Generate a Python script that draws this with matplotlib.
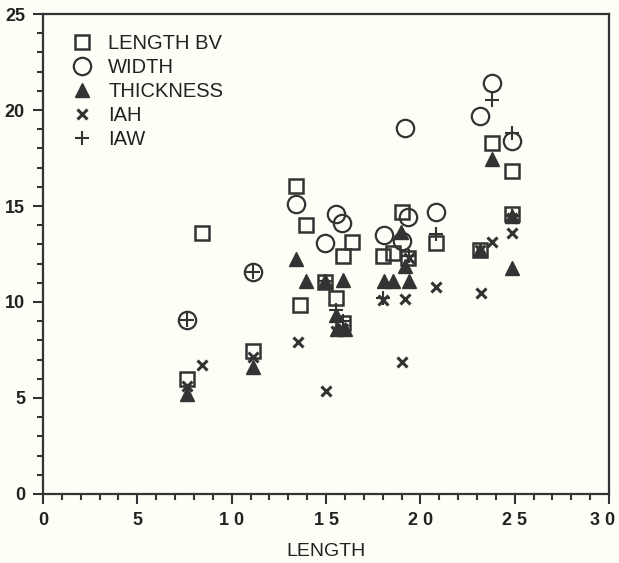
import matplotlib.pyplot as plt
import matplotlib.transforms as mtransforms
from matplotlib.ticker import MultipleLocator

# values
length_bv_x = [7.65, 8.4, 11.15, 13.4, 13.6, 13.95, 14.95, 15.55, 15.9, 15.9, 16.4, 18.0,
               18.55, 19.0, 19.35, 20.85, 23.15, 23.8, 24.85, 24.85]
length_bv_y = [6.0, 13.6, 7.45, 16.05, 9.85, 14.0, 11.05, 10.2, 8.9, 12.4, 13.1, 12.4,
               12.55, 14.7, 12.3, 13.05, 12.7, 18.3, 16.8, 14.6]

width_x = [7.65, 11.15, 13.4, 14.95, 15.55, 15.85, 18.05, 19.0, 19.2, 19.35, 20.85,
           23.15, 23.8, 24.85]
width_y = [9.05, 11.55, 15.1, 13.05, 14.6, 14.1, 13.5, 13.2, 19.05, 14.45, 14.7,
           19.7, 21.4, 18.4]

thick_x = [7.65, 11.15, 13.4, 13.95, 14.95, 15.55, 15.9, 15.6, 16.0, 18.05, 18.55, 18.95,
           19.2, 19.4, 23.15, 23.8, 24.85, 24.85]
thick_y = [5.2, 6.6, 12.25, 11.1, 11.1, 9.3, 11.15, 8.6, 8.6, 11.1, 11.1, 13.65,
           11.85, 11.1, 12.7, 17.45, 11.75, 14.5]

iah_x = [7.65, 8.4, 11.15, 13.5, 15.0, 15.9, 15.55, 18.0, 19.0, 19.2, 19.4, 20.85,
         23.2, 23.8, 24.85, 24.85, 23.15]
iah_y = [5.6, 6.7, 7.15, 7.9, 5.35, 8.6, 8.5, 10.1, 6.9, 10.15, 12.3, 10.8,
         10.45, 13.1, 13.6, 14.4, 12.7]

iaw_x = [7.65, 11.15, 15.55, 15.9, 18.0, 19.4, 20.85, 23.8, 24.85, 24.85, 14.95]
iaw_y = [9.05, 11.55, 9.6, 9.0, 10.2, 12.4, 13.55, 20.5, 18.8, 14.5, 11.1]

xticks = [0, 5, 10, 15, 20, 25, 30]
xtick_labels = ['0', '5', '1 0', '1 5', '2 0', '2 5', '3 0']
yticks = [0, 5, 10, 15, 20, 25]

ink = '#333333'
bg = '#fefef6'
plt.rcParams['font.family'] = ['Liberation Sans', 'DejaVu Sans']

fig = plt.figure(figsize=(6.19, 5.63), dpi=100, facecolor=bg)
ax = fig.add_axes([0.0695, 0.1226, 0.9145, 0.8525], facecolor=bg)

ax.plot(length_bv_x, length_bv_y, 's', ms=9.4, mfc='none', mec=ink, mew=1.8, label='LENGTH BV')
ax.plot(width_x, width_y, 'o', ms=12.5, mfc='none', mec=ink, mew=1.6, label='WIDTH')
ax.plot(thick_x, thick_y, '^', ms=10.5, color=ink, mec=ink, label='THICKNESS')
ax.plot(iah_x, iah_y, 'x', ms=7, mec=ink, mew=2.2, label='IAH')
ax.plot(iaw_x, iaw_y, '+', ms=10, mec=ink, mew=1.5, label='IAW')

ax.set_xlim(0, 30)
ax.set_ylim(0, 25)
ax.set_xticks(xticks)
ax.set_xticklabels(xtick_labels)
ax.set_yticks(yticks)
ax.xaxis.set_minor_locator(MultipleLocator(1))
ax.yaxis.set_minor_locator(MultipleLocator(1))
ax.tick_params(which='major', direction='out', length=7, width=1.5, color=ink,
               labelsize=13, labelcolor='#222222', pad=6)
ax.tick_params(which='minor', direction='out', length=4, width=1.5, color=ink)
for lab in ax.get_xticklabels() + ax.get_yticklabels():
    lab.set_fontweight('bold')
# last x label sits a little left of its tick, as in the original
last = ax.get_xticklabels()[-1]
last.set_transform(last.get_transform() + mtransforms.ScaledTranslation(-7 / 100, 0, fig.dpi_scale_trans))
for s in ax.spines.values():
    s.set_linewidth(1.6)
    s.set_color(ink)

ax.set_xlabel('LENGTH', fontsize=14, color='#222222', labelpad=10)

ax.legend(loc='upper left', frameon=False, fontsize=14.5, handletextpad=0.6, handlelength=1.4,
          labelspacing=0.25, borderaxespad=0.0, bbox_to_anchor=(0.03, 0.975),
          labelcolor='#222222')

fig.savefig('out.png', dpi=100, facecolor=bg)
